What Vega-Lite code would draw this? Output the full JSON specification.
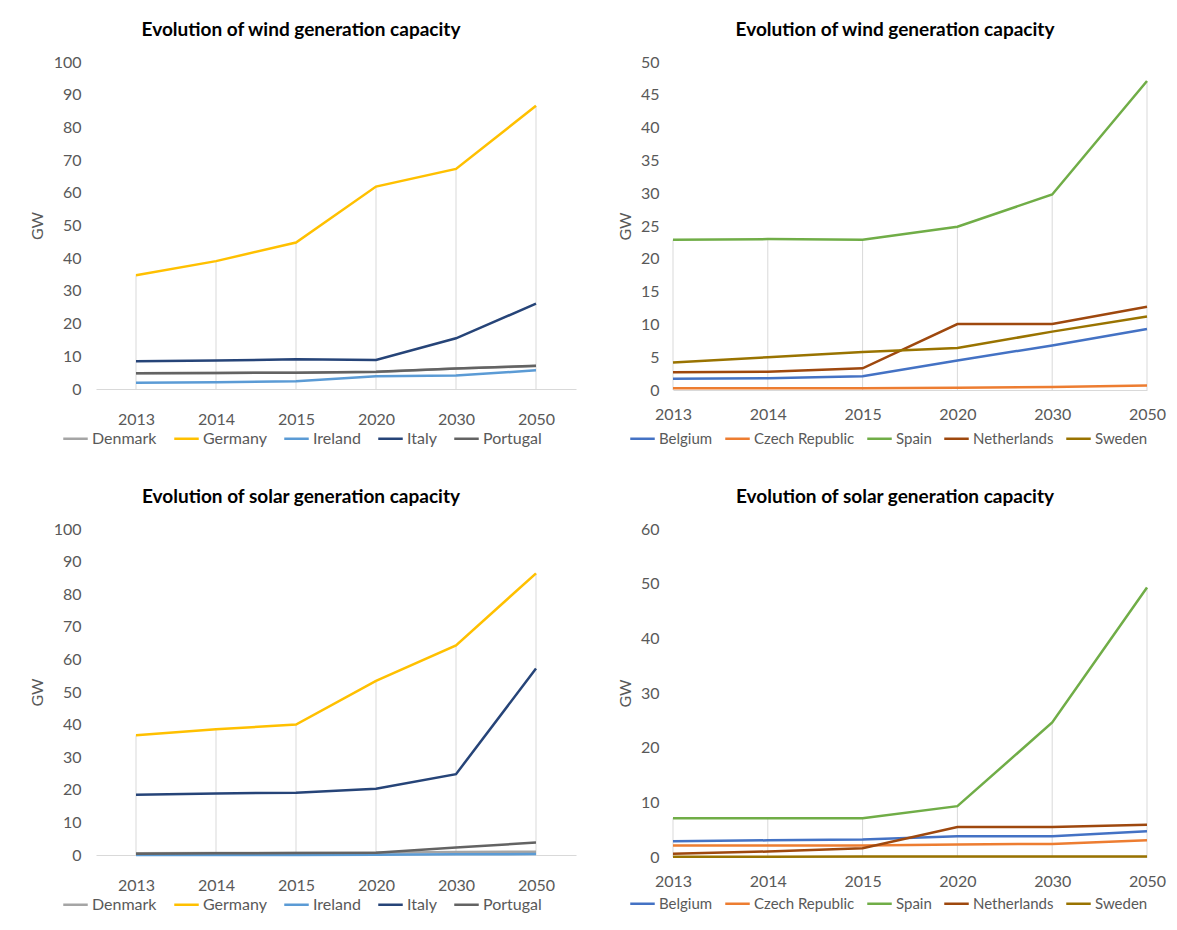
{
  "$schema": "https://vega.github.io/schema/vega-lite/v6.json",
  "padding": {"left": 29, "top": 21, "right": 5, "bottom": 5},
  "background": "#ffffff",
  "config": {
    "font": "Lato",
    "view": {"stroke": null},
    "axis": {"labelFont": "Lato", "labelFontSize": 16, "labelColor": "#595959", "labelOverlap": false, "titleFont": "Lato", "titleColor": "#595959", "titleFontSize": 16, "titleFontWeight": "normal", "ticks": false, "grid": false},
    "legend": {"labelFont": "Lato", "labelFontSize": 16, "labelColor": "#595959", "symbolType": "stroke", "symbolSize": 600, "symbolStrokeWidth": 3, "labelOffset": 3, "columnPadding": 12},
    "title": {"font": "Lato", "fontSize": 19, "fontWeight": "bold", "color": "#000000", "anchor": "middle"},
    "line": {"strokeWidth": 2.5}
  },
  "datasets": {
    "windA": [
      {"year": "2013", "country": "Denmark", "value": 4.8}, {"year": "2014", "country": "Denmark", "value": 4.9}, {"year": "2015", "country": "Denmark", "value": 5.0}, {"year": "2020", "country": "Denmark", "value": 5.2}, {"year": "2030", "country": "Denmark", "value": 6.3}, {"year": "2050", "country": "Denmark", "value": 7.0},
      {"year": "2013", "country": "Germany", "value": 34.8}, {"year": "2014", "country": "Germany", "value": 39.1}, {"year": "2015", "country": "Germany", "value": 44.8}, {"year": "2020", "country": "Germany", "value": 61.9}, {"year": "2030", "country": "Germany", "value": 67.3}, {"year": "2050", "country": "Germany", "value": 86.6},
      {"year": "2013", "country": "Ireland", "value": 1.9}, {"year": "2014", "country": "Ireland", "value": 2.1}, {"year": "2015", "country": "Ireland", "value": 2.4}, {"year": "2020", "country": "Ireland", "value": 3.9}, {"year": "2030", "country": "Ireland", "value": 4.1}, {"year": "2050", "country": "Ireland", "value": 5.7},
      {"year": "2013", "country": "Italy", "value": 8.5}, {"year": "2014", "country": "Italy", "value": 8.7}, {"year": "2015", "country": "Italy", "value": 9.1}, {"year": "2020", "country": "Italy", "value": 8.9}, {"year": "2030", "country": "Italy", "value": 15.5}, {"year": "2050", "country": "Italy", "value": 26.1},
      {"year": "2013", "country": "Portugal", "value": 4.8}, {"year": "2014", "country": "Portugal", "value": 4.9}, {"year": "2015", "country": "Portugal", "value": 5.0}, {"year": "2020", "country": "Portugal", "value": 5.3}, {"year": "2030", "country": "Portugal", "value": 6.3}, {"year": "2050", "country": "Portugal", "value": 7.1}
    ],
    "windB": [
      {"year": "2013", "country": "Belgium", "value": 1.7}, {"year": "2014", "country": "Belgium", "value": 1.8}, {"year": "2015", "country": "Belgium", "value": 2.1}, {"year": "2020", "country": "Belgium", "value": 4.5}, {"year": "2030", "country": "Belgium", "value": 6.8}, {"year": "2050", "country": "Belgium", "value": 9.3},
      {"year": "2013", "country": "Czech Republic", "value": 0.25}, {"year": "2014", "country": "Czech Republic", "value": 0.27}, {"year": "2015", "country": "Czech Republic", "value": 0.28}, {"year": "2020", "country": "Czech Republic", "value": 0.35}, {"year": "2030", "country": "Czech Republic", "value": 0.45}, {"year": "2050", "country": "Czech Republic", "value": 0.7},
      {"year": "2013", "country": "Spain", "value": 22.9}, {"year": "2014", "country": "Spain", "value": 23.0}, {"year": "2015", "country": "Spain", "value": 22.9}, {"year": "2020", "country": "Spain", "value": 24.9}, {"year": "2030", "country": "Spain", "value": 29.8}, {"year": "2050", "country": "Spain", "value": 47.1},
      {"year": "2013", "country": "Netherlands", "value": 2.7}, {"year": "2014", "country": "Netherlands", "value": 2.8}, {"year": "2015", "country": "Netherlands", "value": 3.3}, {"year": "2020", "country": "Netherlands", "value": 10.05}, {"year": "2030", "country": "Netherlands", "value": 10.05}, {"year": "2050", "country": "Netherlands", "value": 12.7},
      {"year": "2013", "country": "Sweden", "value": 4.2}, {"year": "2014", "country": "Sweden", "value": 5.0}, {"year": "2015", "country": "Sweden", "value": 5.8}, {"year": "2020", "country": "Sweden", "value": 6.4}, {"year": "2030", "country": "Sweden", "value": 8.9}, {"year": "2050", "country": "Sweden", "value": 11.2}
    ],
    "solarA": [
      {"year": "2013", "country": "Denmark", "value": 0.5}, {"year": "2014", "country": "Denmark", "value": 0.6}, {"year": "2015", "country": "Denmark", "value": 0.6}, {"year": "2020", "country": "Denmark", "value": 0.7}, {"year": "2030", "country": "Denmark", "value": 0.9}, {"year": "2050", "country": "Denmark", "value": 1.0},
      {"year": "2013", "country": "Germany", "value": 36.7}, {"year": "2014", "country": "Germany", "value": 38.6}, {"year": "2015", "country": "Germany", "value": 40.0}, {"year": "2020", "country": "Germany", "value": 53.4}, {"year": "2030", "country": "Germany", "value": 64.3}, {"year": "2050", "country": "Germany", "value": 86.4},
      {"year": "2013", "country": "Ireland", "value": 0.02}, {"year": "2014", "country": "Ireland", "value": 0.02}, {"year": "2015", "country": "Ireland", "value": 0.03}, {"year": "2020", "country": "Ireland", "value": 0.1}, {"year": "2030", "country": "Ireland", "value": 0.2}, {"year": "2050", "country": "Ireland", "value": 0.3},
      {"year": "2013", "country": "Italy", "value": 18.5}, {"year": "2014", "country": "Italy", "value": 18.9}, {"year": "2015", "country": "Italy", "value": 19.1}, {"year": "2020", "country": "Italy", "value": 20.3}, {"year": "2030", "country": "Italy", "value": 24.8}, {"year": "2050", "country": "Italy", "value": 57.2},
      {"year": "2013", "country": "Portugal", "value": 0.4}, {"year": "2014", "country": "Portugal", "value": 0.5}, {"year": "2015", "country": "Portugal", "value": 0.6}, {"year": "2020", "country": "Portugal", "value": 0.7}, {"year": "2030", "country": "Portugal", "value": 2.3}, {"year": "2050", "country": "Portugal", "value": 3.8}
    ],
    "solarB": [
      {"year": "2013", "country": "Belgium", "value": 2.9}, {"year": "2014", "country": "Belgium", "value": 3.05}, {"year": "2015", "country": "Belgium", "value": 3.2}, {"year": "2020", "country": "Belgium", "value": 3.8}, {"year": "2030", "country": "Belgium", "value": 3.8}, {"year": "2050", "country": "Belgium", "value": 4.7},
      {"year": "2013", "country": "Czech Republic", "value": 2.1}, {"year": "2014", "country": "Czech Republic", "value": 2.1}, {"year": "2015", "country": "Czech Republic", "value": 2.1}, {"year": "2020", "country": "Czech Republic", "value": 2.3}, {"year": "2030", "country": "Czech Republic", "value": 2.4}, {"year": "2050", "country": "Czech Republic", "value": 3.05},
      {"year": "2013", "country": "Spain", "value": 7.1}, {"year": "2014", "country": "Spain", "value": 7.1}, {"year": "2015", "country": "Spain", "value": 7.1}, {"year": "2020", "country": "Spain", "value": 9.3}, {"year": "2030", "country": "Spain", "value": 24.6}, {"year": "2050", "country": "Spain", "value": 49.3},
      {"year": "2013", "country": "Netherlands", "value": 0.6}, {"year": "2014", "country": "Netherlands", "value": 1.0}, {"year": "2015", "country": "Netherlands", "value": 1.6}, {"year": "2020", "country": "Netherlands", "value": 5.5}, {"year": "2030", "country": "Netherlands", "value": 5.5}, {"year": "2050", "country": "Netherlands", "value": 5.9},
      {"year": "2013", "country": "Sweden", "value": 0.05}, {"year": "2014", "country": "Sweden", "value": 0.05}, {"year": "2015", "country": "Sweden", "value": 0.08}, {"year": "2020", "country": "Sweden", "value": 0.1}, {"year": "2030", "country": "Sweden", "value": 0.1}, {"year": "2050", "country": "Sweden", "value": 0.1}
    ]
  },
  "vconcat": [
    {
      "hconcat": [
        {
          "width": 480, "height": 327,
          "title": {"text": "Evolution of wind generation capacity", "dx": -35, "offset": 14},
          "data": {"name": "windA"},
          "encoding": {"x": {"field": "year", "type": "ordinal", "scale": {"type": "point", "padding": 0.5}, "axis": {"title": null, "labelAngle": 0, "domainColor": "#d9d9d9", "labelPadding": 22}}},
          "layer": [
            {"mark": {"type": "rule", "color": "#d9d9d9", "strokeWidth": 1}, "encoding": {"y": {"aggregate": "max", "field": "value", "type": "quantitative", "title": "GW", "axis": {"values": [0, 10, 20, 30, 40, 50, 60, 70, 80, 90, 100], "domain": false, "labelPadding": 15, "titlePadding": 8}}, "y2": {"datum": 0}}},
            {"mark": "line", "encoding": {
              "y": {"field": "value", "type": "quantitative", "title": "GW", "scale": {"domain": [0, 100]}, "axis": {"values": [0, 10, 20, 30, 40, 50, 60, 70, 80, 90, 100], "domain": false, "labelPadding": 15, "titlePadding": 8}},
              "color": {"field": "country", "type": "nominal", "scale": {"domain": ["Denmark", "Germany", "Ireland", "Italy", "Portugal"], "range": ["#A5A5A5", "#FFC000", "#5B9BD5", "#264478", "#636363"]}, "legend": {"title": null, "orient": "none", "direction": "horizontal", "legendX": -34, "legendY": 363}}
            }}
          ]
        },
        {
          "width": 474, "height": 328,
          "title": {"text": "Evolution of wind generation capacity", "dx": -15, "offset": 14},
          "data": {"name": "windB"},
          "encoding": {"x": {"field": "year", "type": "ordinal", "scale": {"type": "point", "padding": 0}, "axis": {"title": null, "labelAngle": 0, "domainColor": "#d9d9d9", "labelPadding": 16}}},
          "layer": [
            {"mark": {"type": "rule", "color": "#d9d9d9", "strokeWidth": 1}, "encoding": {"y": {"aggregate": "max", "field": "value", "type": "quantitative", "title": "GW", "axis": {"values": [0, 5, 10, 15, 20, 25, 30, 35, 40, 45, 50], "domain": false, "labelPadding": 14, "titlePadding": 7}}, "y2": {"datum": 0}}},
            {"mark": "line", "encoding": {
              "y": {"field": "value", "type": "quantitative", "title": "GW", "scale": {"domain": [0, 50]}, "axis": {"values": [0, 5, 10, 15, 20, 25, 30, 35, 40, 45, 50], "domain": false, "labelPadding": 14, "titlePadding": 7}},
              "color": {"field": "country", "type": "nominal", "scale": {"domain": ["Belgium", "Czech Republic", "Spain", "Netherlands", "Sweden"], "range": ["#4472C4", "#ED7D31", "#70AD47", "#9E480E", "#997300"]}, "legend": {"title": null, "orient": "none", "direction": "horizontal", "legendX": -44, "legendY": 363, "columnPadding": 7, "labelFontSize": 15}}
            }}
          ]
        }
      ],
      "spacing": 41,
      "resolve": {"scale": {"color": "independent", "x": "independent", "y": "independent"}}
    },
    {
      "hconcat": [
        {
          "width": 480, "height": 326,
          "title": {"text": "Evolution of solar generation capacity", "dx": -35, "offset": 14},
          "data": {"name": "solarA"},
          "encoding": {"x": {"field": "year", "type": "ordinal", "scale": {"type": "point", "padding": 0.5}, "axis": {"title": null, "labelAngle": 0, "domainColor": "#d9d9d9", "labelPadding": 22}}},
          "layer": [
            {"mark": {"type": "rule", "color": "#d9d9d9", "strokeWidth": 1}, "encoding": {"y": {"aggregate": "max", "field": "value", "type": "quantitative", "title": "GW", "axis": {"values": [0, 10, 20, 30, 40, 50, 60, 70, 80, 90, 100], "domain": false, "labelPadding": 15, "titlePadding": 8}}, "y2": {"datum": 0}}},
            {"mark": "line", "encoding": {
              "y": {"field": "value", "type": "quantitative", "title": "GW", "scale": {"domain": [0, 100]}, "axis": {"values": [0, 10, 20, 30, 40, 50, 60, 70, 80, 90, 100], "domain": false, "labelPadding": 15, "titlePadding": 8}},
              "color": {"field": "country", "type": "nominal", "scale": {"domain": ["Denmark", "Germany", "Ireland", "Italy", "Portugal"], "range": ["#A5A5A5", "#FFC000", "#5B9BD5", "#264478", "#636363"]}, "legend": {"title": null, "orient": "none", "direction": "horizontal", "legendX": -34, "legendY": 362}}
            }}
          ]
        },
        {
          "width": 474, "height": 328,
          "title": {"text": "Evolution of solar generation capacity", "dx": -15, "offset": 14},
          "data": {"name": "solarB"},
          "encoding": {"x": {"field": "year", "type": "ordinal", "scale": {"type": "point", "padding": 0}, "axis": {"title": null, "labelAngle": 0, "domainColor": "#d9d9d9", "labelPadding": 16}}},
          "layer": [
            {"mark": {"type": "rule", "color": "#d9d9d9", "strokeWidth": 1}, "encoding": {"y": {"aggregate": "max", "field": "value", "type": "quantitative", "title": "GW", "axis": {"values": [0, 10, 20, 30, 40, 50, 60], "domain": false, "labelPadding": 14, "titlePadding": 7}}, "y2": {"datum": 0}}},
            {"mark": "line", "encoding": {
              "y": {"field": "value", "type": "quantitative", "title": "GW", "scale": {"domain": [0, 60]}, "axis": {"values": [0, 10, 20, 30, 40, 50, 60], "domain": false, "labelPadding": 14, "titlePadding": 7}},
              "color": {"field": "country", "type": "nominal", "scale": {"domain": ["Belgium", "Czech Republic", "Spain", "Netherlands", "Sweden"], "range": ["#4472C4", "#ED7D31", "#70AD47", "#9E480E", "#997300"]}, "legend": {"title": null, "orient": "none", "direction": "horizontal", "legendX": -44, "legendY": 361, "columnPadding": 7, "labelFontSize": 15}}
            }}
          ]
        }
      ],
      "spacing": 41,
      "resolve": {"scale": {"color": "independent", "x": "independent", "y": "independent"}}
    }
  ],
  "spacing": 41,
  "resolve": {"scale": {"color": "independent", "x": "independent", "y": "independent"}}
}
